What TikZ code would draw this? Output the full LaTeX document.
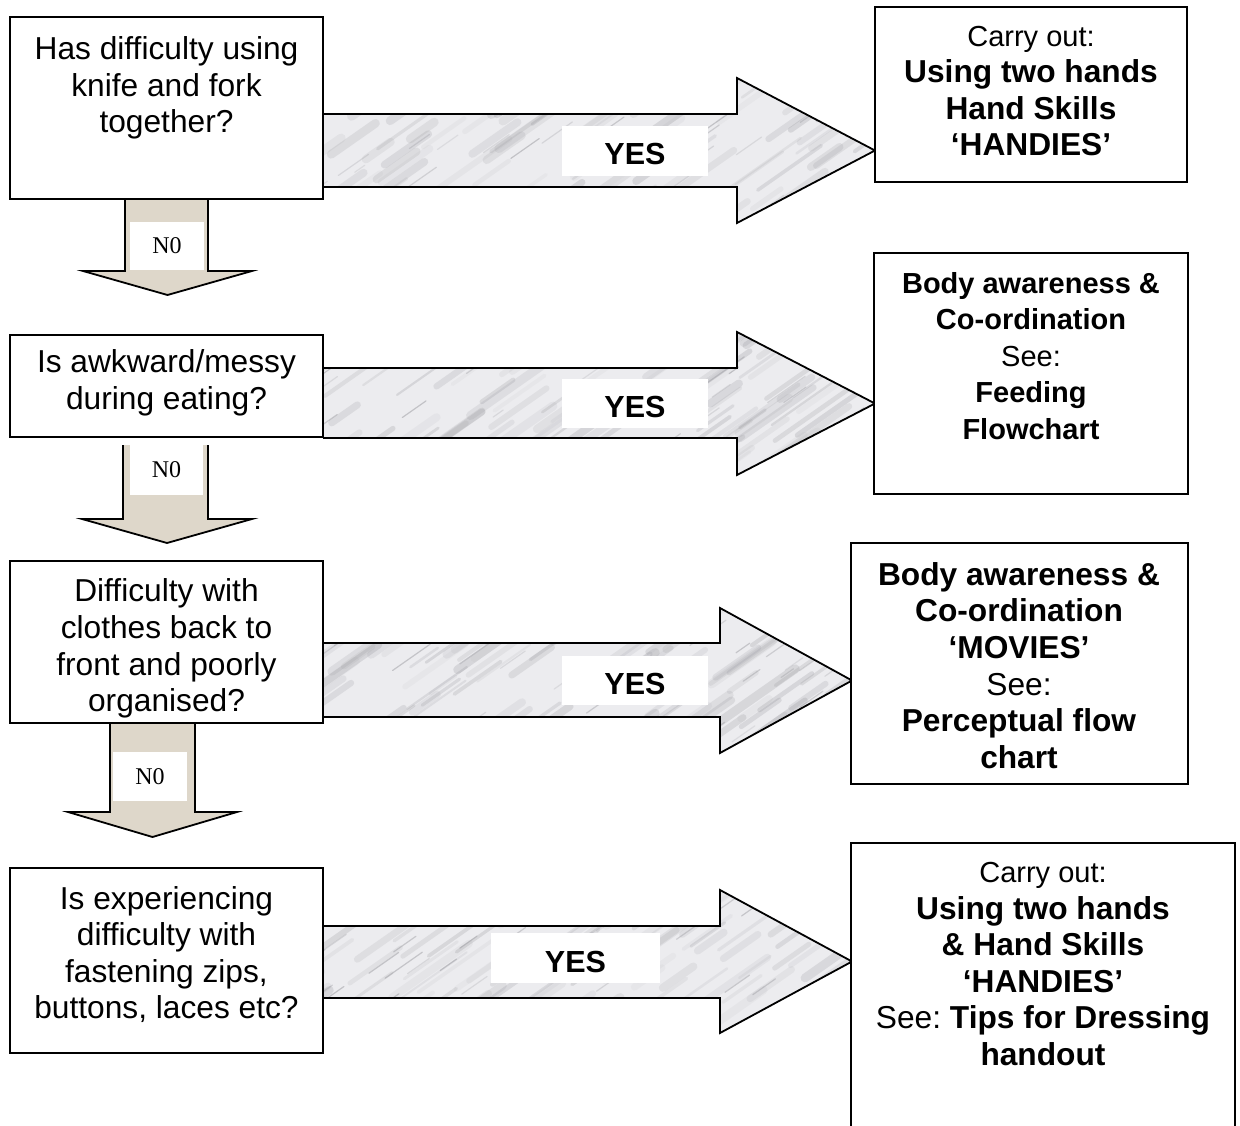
\documentclass[tikz,border=0pt]{standalone}
\usepackage{fontspec}
\setmainfont{Liberation Sans}
\newfontfamily\nofont{Liberation Serif}
\frenchspacing

\definecolor{marblebase}{RGB}{236,236,239}
\definecolor{marblevein}{RGB}{130,130,136}
\definecolor{nofill}{RGB}{222,215,202}

% text sizes (1pt = 1 unit of the picture)
\newcommand\bigtxt{\fontsize{31.7}{36.6}\selectfont}
\newcommand\smalltxt{\fontsize{29}{36.6}\selectfont}

\tikzset{
  qframe/.style={draw=black, line width=1.8pt, fill=white, inner sep=0pt},
  qtext/.style={align=center, inner sep=0pt, font=\bigtxt},
  atext/.style={align=center, inner sep=0pt, font=\bigtxt},
  yesbox/.style={fill=white, inner sep=0pt, font=\bfseries\fontsize{30.5}{36}\selectfont,
                 text height=28pt, text depth=0pt},
  nobox/.style={fill=white, inner sep=0pt, font=\nofont\fontsize{24}{26}\selectfont},
  outline/.style={draw=black, line width=1.8pt, line join=miter},
}

% horizontal marble block arrow:
% #1 start x, #2 body top, #3 body bottom, #4 head base x, #5 head top, #6 head bottom, #7 tip x
\newcommand\marblearrow[7]{%
  \begin{scope}
    \clip (#1,#2) -- (#4,#2) -- (#4,#5) -- (#7,{(#5+#6)/2}) -- (#4,#6) -- (#4,#3) -- (#1,#3) -- cycle;
    \fill[marblebase] (#1,#5) rectangle (#7,#6);
    % soft cloudy veins
    \foreach \k in {1,...,110}{%
      \pgfmathsetmacro\sx{#1-60+rnd*(#7-#1+60)}%
      \pgfmathsetmacro\sy{#5+rnd*(#6-#5+40)}%
      \pgfmathsetmacro\sl{20+rnd*60}%
      \pgfmathsetmacro\sw{2+rnd*7}%
      \pgfmathsetmacro\so{0.05+rnd*0.16}%
      \draw[marblevein, line width=\sw pt, opacity=\so, line cap=round] (\sx,\sy) -- ++(\sl,-0.7*\sl);
    }
    % fine dark veins
    \foreach \k in {1,...,40}{%
      \pgfmathsetmacro\sx{#1-40+rnd*(#7-#1+40)}%
      \pgfmathsetmacro\sy{#5+rnd*(#6-#5+30)}%
      \pgfmathsetmacro\sl{8+rnd*30}%
      \pgfmathsetmacro\so{0.15+rnd*0.25}%
      \draw[marblevein, line width=1.2pt, opacity=\so, line cap=round] (\sx,\sy) -- ++(\sl,-0.7*\sl);
    }
  \end{scope}
  \draw[outline] (#1,#2) -- (#4,#2) -- (#4,#5) -- (#7,{(#5+#6)/2}) -- (#4,#6) -- (#4,#3) -- (#1,#3);
}

% vertical beige block arrow:
% #1 left x, #2 right x, #3 top y, #4 head base y, #5 head left x, #6 head right x, #7 tip y
\newcommand\noarrow[7]{%
  \fill[nofill] (#1,#3) -- (#1,#4) -- (#5,#4) -- ({(#5+#6)/2},#7) -- (#6,#4) -- (#2,#4) -- (#2,#3) -- cycle;
  \draw[outline] (#1,#3) -- (#1,#4) -- (#5,#4) -- ({(#5+#6)/2},#7) -- (#6,#4) -- (#2,#4) -- (#2,#3);
}

\begin{document}
\begin{tikzpicture}[x=1pt, y=-1pt]
\useasboundingbox (0,0) rectangle (1240,1126);
\fill[white] (0,0) rectangle (1240,1126);
\pgfmathsetseed{42}

% YES arrows
\marblearrow{323}{114}{187}{737}{78}{223}{875}
\marblearrow{323}{368}{438}{737}{332}{475}{875}
\marblearrow{323}{643}{717}{720}{608}{753}{852}
\marblearrow{323}{926}{998}{720}{890}{1033}{852}

% NO arrows
\noarrow{125}{208}{199}{271}{83}{252}{295}
\noarrow{123}{208}{445}{519}{82}{252}{543}
\noarrow{110}{195}{723}{812}{68}{237}{837}

% question boxes
\node[qframe, minimum width=313pt, minimum height=182pt] (q1) at (166.5,108) {};
\node[qframe, minimum width=313pt, minimum height=102pt] (q2) at (166.5,386) {};
\node[qframe, minimum width=313pt, minimum height=162pt] (q3) at (166.5,642) {};
\node[qframe, minimum width=313pt, minimum height=185pt] (q4) at (166.5,960.5) {};

% outcome boxes
\node[qframe, minimum width=312pt, minimum height=175pt] (r1) at (1031,94.5) {};
\node[qframe, minimum width=314pt, minimum height=241pt] (r2) at (1031,373.5) {};
\node[qframe, minimum width=337pt, minimum height=241pt] (r3) at (1019.5,663.5) {};
\node[qframe, minimum width=384pt, minimum height=297pt] (r4) at (1043,991.5) {};

% question texts
\node[qtext] (q1t) at (166.5,88) {Has difficulty using\\knife and fork\\together?};
\node[qtext] (q2t) at (166.5,383) {Is awkward/messy\\during eating?};
\node[qtext] (q3t) at (166.5,648.5) {Difficulty with\\clothes back to\\front and poorly\\organised?};
\node[qtext] (q4t) at (166.5,954.5) {Is experiencing\\difficulty with\\fastening zips,\\buttons, laces etc?};

% outcome texts
\node[atext] (r1t) at (1031,91) {{\smalltxt Carry out:}\\\textbf{Using two hands}\\\textbf{Hand Skills}\\\textbf{‘HANDIES’}};
\node[atext, font=\smalltxt] (r2t) at (1031,356) {\textbf{Body awareness \&}\\\textbf{Co-ordination}\\See:\\\textbf{Feeding}\\\textbf{Flowchart}};
\node[atext] (r3t) at (1019,665.5) {\textbf{Body awareness \&}\\\textbf{Co-ordination}\\\textbf{‘MOVIES’}\\See:\\\textbf{Perceptual flow}\\\textbf{chart}};
\node[atext] (r4t) at (1043,964) {{\smalltxt Carry out:}\\\textbf{Using two hands}\\\textbf{\& Hand Skills}\\\textbf{‘HANDIES’}\\See: \textbf{Tips for Dressing}\\\textbf{handout}};

% YES labels
\node[yesbox, minimum width=146pt, minimum height=50pt] (y1) at (635,151) {YES};
\node[yesbox, minimum width=146pt, minimum height=49pt] (y2) at (635,403.5) {YES};
\node[yesbox, minimum width=146pt, minimum height=49pt] (y3) at (635,680.5) {YES};
\node[yesbox, minimum width=169pt, minimum height=50pt] (y4) at (575.5,958) {YES};

% NO labels
\node[nobox, minimum width=74pt, minimum height=48pt] (n1) at (167,246) {N0};
\node[nobox, minimum width=73pt, minimum height=50pt] (n2) at (166.5,470) {N0};
\node[nobox, minimum width=74pt, minimum height=49pt] (n3) at (150,776.5) {N0};
\end{tikzpicture}
\end{document}
